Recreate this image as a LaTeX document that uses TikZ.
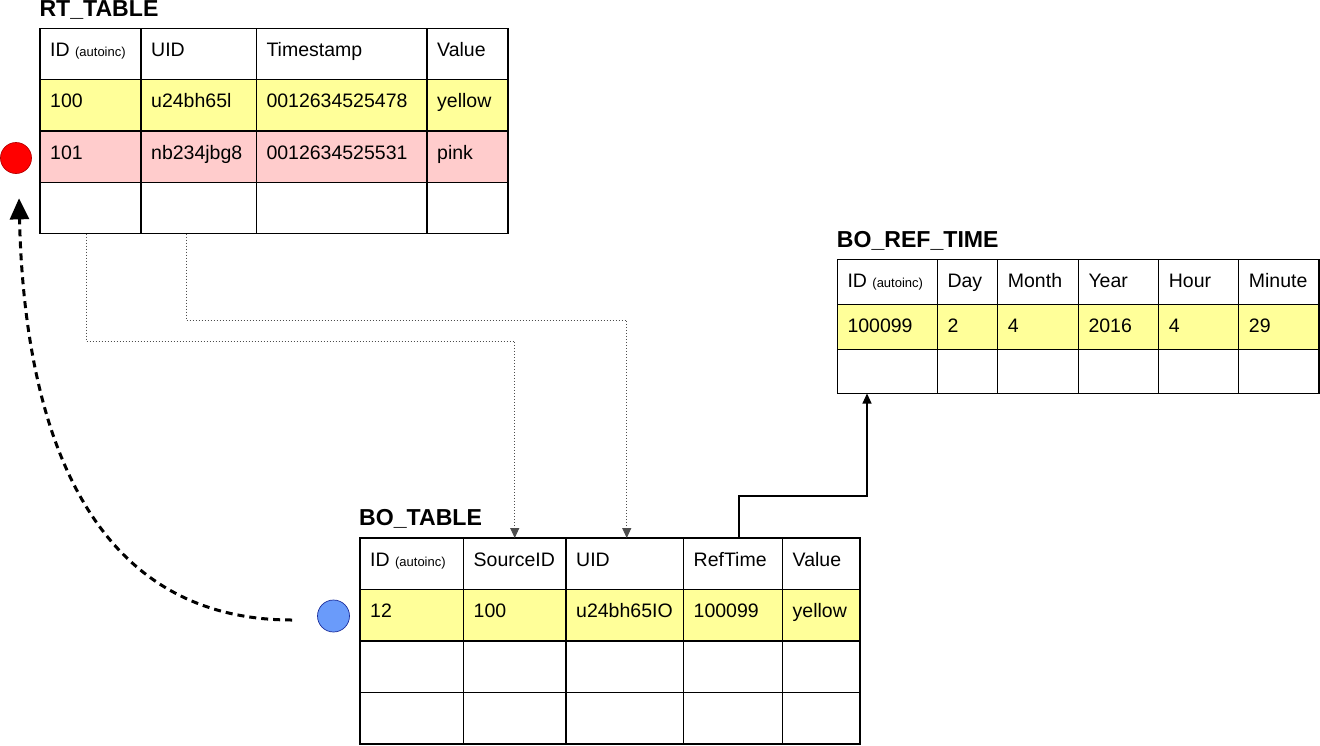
\documentclass[tikz,border=0pt]{standalone}
\usepackage{fontspec}
\setmainfont{Liberation Sans}
\usetikzlibrary{calc,arrows.meta}

\definecolor{rowyellow}{HTML}{FFFF99}
\definecolor{rowpink}{HTML}{FFCCCC}
\definecolor{linkgray}{HTML}{4D4D4D}
\definecolor{keyred}{HTML}{FF0000}
\definecolor{keyredline}{HTML}{B80000}
\definecolor{keyblue}{HTML}{6A9BFA}
\definecolor{keyblueline}{HTML}{1C2E9C}

% small "(autoinc)" note after an ID column name
\newcommand\autoinc{{\fontsize{13}{15}\selectfont(autoinc)}}
% one table cell: name, x, y, width, height, fill, text
\newcommand\tcell[7]{%
  \node[cellbox, fill=#6, minimum width=#4pt, minimum height=#5pt,
        anchor=north west] (#1) at (#2,#3) {};
  \node[celltext] (#1-t) at ($(#1.north west)+(10,28)$) {#7};}

\begin{document}
\begin{tikzpicture}[x=1pt, y=-1pt,
  cellbox/.style={draw=black, line width=1.3pt, inner sep=0pt, outer sep=0pt},
  celltext/.style={anchor=base west, inner sep=0pt, font=\fontsize{19.5}{23}\selectfont},
  titletext/.style={anchor=base west, inner sep=0pt, font=\fontsize{23.1}{26}\selectfont\bfseries},
  dotlink/.style={draw=linkgray, line width=1pt, dash pattern=on 1.3pt off 1.7pt,
                  -{Triangle[length=10pt,width=9pt]}},
  solidlink/.style={draw=black, line width=1.1pt, -{Triangle[length=10pt,width=9pt]}},
  flowcurve/.style={draw=black, line width=3pt, dash pattern=on 7pt off 5pt,
                    -{Triangle[length=21pt,width=19pt]}},
  keydot/.style={circle, inner sep=0pt, minimum size=31pt, line width=0.7pt}]

\useasboundingbox (0,0) rectangle (1320,745);

% ---------------- RT_TABLE ----------------
\node[titletext] (rttitle) at (39.3,16.7) {RT\_TABLE};
\foreach \x/\w/\t [count=\i] in {40/101/{ID \autoinc}, 141/115.3/UID, 256.3/170.7/Timestamp, 427/81/Value}
  {\tcell{rt-0-\i}{\x}{28.3}{\w}{51.2}{white}{\t}}
\foreach \x/\w/\t [count=\i] in {40/101/100, 141/115.3/u24bh65l, 256.3/170.7/0012634525478, 427/81/yellow}
  {\tcell{rt-1-\i}{\x}{79.5}{\w}{51.5}{rowyellow}{\t}}
\foreach \x/\w/\t [count=\i] in {40/101/101, 141/115.3/nb234jbg8, 256.3/170.7/0012634525531, 427/81/pink}
  {\tcell{rt-2-\i}{\x}{131}{\w}{51.3}{rowpink}{\t}}
\foreach \x/\w [count=\i] in {40/101, 141/115.3, 256.3/170.7, 427/81}
  {\tcell{rt-3-\i}{\x}{182.3}{\w}{51.2}{white}{}}

% ---------------- BO_REF_TIME ----------------
\node[titletext] (reftitle) at (836.7,247.7) {BO\_REF\_TIME};
\foreach \x/\w/\t [count=\i] in {837.3/100/{ID \autoinc}, 937.3/60.4/Day, 997.7/80.6/Month, 1078.3/80.4/Year, 1158.7/80/Hour, 1238.7/80.3/Minute}
  {\tcell{ref-0-\i}{\x}{259.3}{\w}{45}{white}{\t}}
\foreach \x/\w/\t [count=\i] in {837.3/100/100099, 937.3/60.4/2, 997.7/80.6/4, 1078.3/80.4/2016, 1158.7/80/4, 1238.7/80.3/29}
  {\tcell{ref-1-\i}{\x}{304.3}{\w}{45}{rowyellow}{\t}}
\foreach \x/\w [count=\i] in {837.3/100, 937.3/60.4, 997.7/80.6, 1078.3/80.4, 1158.7/80, 1238.7/80.3}
  {\tcell{ref-2-\i}{\x}{349.3}{\w}{44.2}{white}{}}

% ---------------- BO_TABLE ----------------
\node[titletext] (botitle) at (359,525.5) {BO\_TABLE};
\foreach \x/\w/\t [count=\i] in {360/103.5/{ID \autoinc}, 463.5/102.5/SourceID, 566/117.5/UID, 683.5/99/RefTime, 782.5/77.5/Value}
  {\tcell{bo-0-\i}{\x}{538}{\w}{51.5}{white}{\t}}
\foreach \x/\w/\t [count=\i] in {360/103.5/12, 463.5/102.5/100, 566/117.5/u24bh65IO, 683.5/99/100099, 782.5/77.5/yellow}
  {\tcell{bo-1-\i}{\x}{589.5}{\w}{51.5}{rowyellow}{\t}}
\foreach \x/\w [count=\i] in {360/103.5, 463.5/102.5, 566/117.5, 683.5/99, 782.5/77.5}
  {\tcell{bo-2-\i}{\x}{641}{\w}{51.5}{white}{}
   \tcell{bo-3-\i}{\x}{692.5}{\w}{51.5}{white}{}}

% ---------------- markers ----------------
\node[keydot, draw=keyredline, fill=keyred] (red) at (16,158) {};
\node[keydot, draw=keyblueline, fill=keyblue, minimum size=32pt] (blue) at (333.5,616) {};

% ---------------- references ----------------
\draw[dotlink] ($(rt-3-1.south west)+(46,0)$) -- ++(0,107.5) -| (bo-0-2.north);
\draw[dotlink] ($(rt-3-2.south west)+(45,0)$) -- ++(0,86.5) -| ($(bo-0-3.north)+(2,0)$);
\draw[solidlink] ($(bo-0-4.north west)+(55.5,0)$) -- ++(0,-42) -| ($(ref-2-1.south west)+(29.7,0)$);

% ---------------- flow from BO row back to RT row ----------------
\draw[flowcurve] ($(blue.west)+(-25,4)$) .. controls (100,620) and (25,450) .. ($(red.south)+(3,24.5)$);

\end{tikzpicture}
\end{document}
